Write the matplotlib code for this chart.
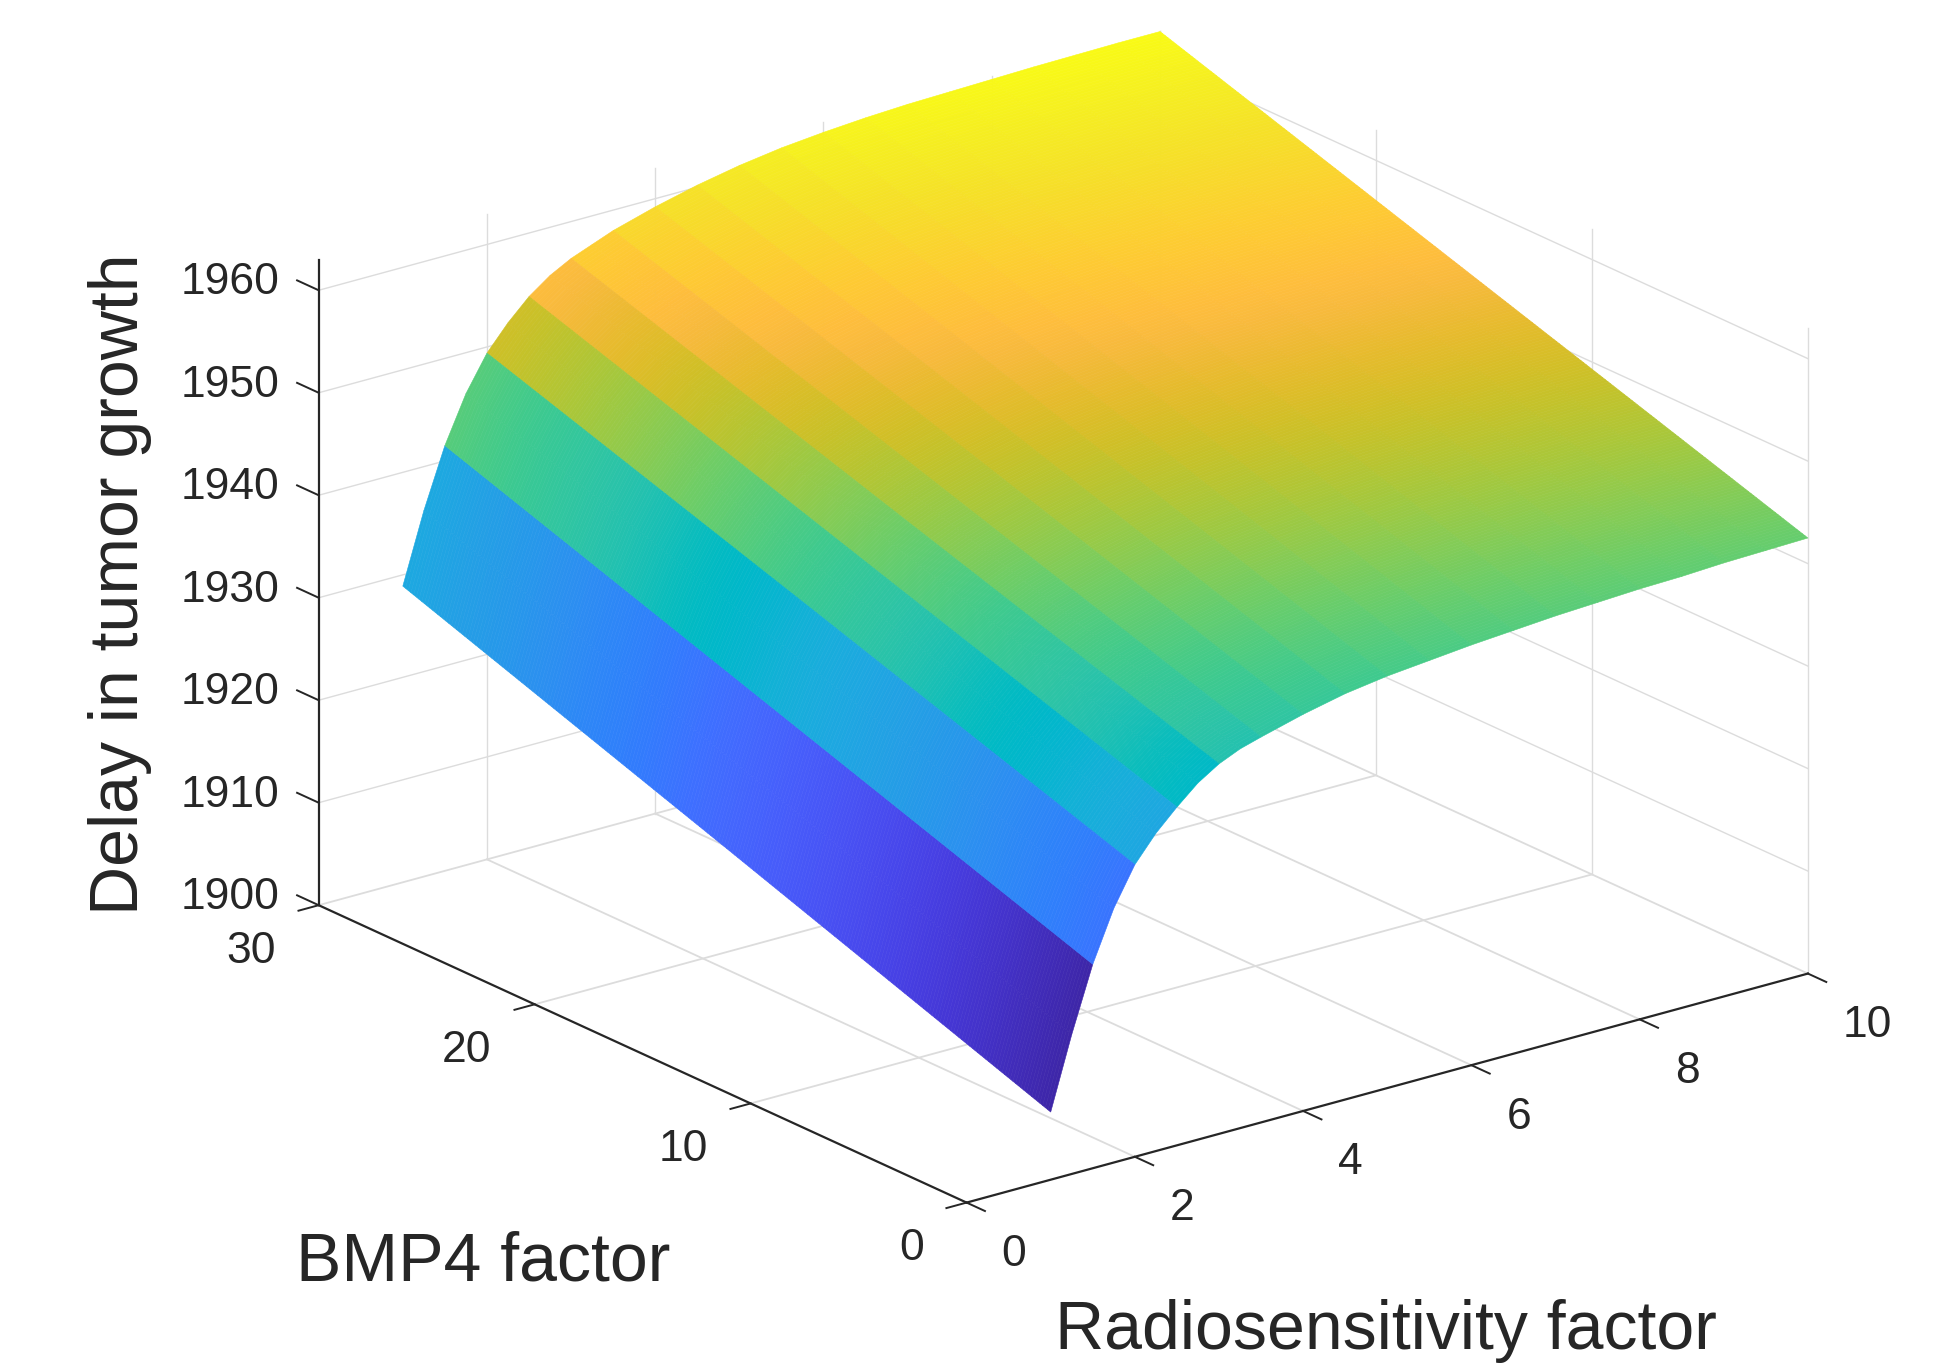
import numpy as np
import matplotlib
matplotlib.use("Agg")
import matplotlib.pyplot as plt
from matplotlib.colors import LinearSegmentedColormap, Normalize
from mpl_toolkits.mplot3d import proj3d

plt.rcParams['font.family'] = ['Liberation Sans', 'DejaVu Sans']

# values
radio = [1, 1.25, 1.5, 1.75, 2, 2.25, 2.5, 2.75, 3, 3.25, 3.5, 4, 4.5, 5, 5.5, 6, 6.5, 7, 7.5, 8, 8.5, 9, 9.5, 10]
bmp4 = [0, 15, 30]
delay_bmp0 = [1906.6, 1913.6, 1919.9, 1924.8, 1928.5, 1931.0, 1933.0, 1934.8, 1936.1, 1937.0, 1937.6,
              1938.7, 1939.6, 1940.2, 1940.6, 1941.0, 1941.3, 1941.6, 1941.8, 1942.0, 1942.1, 1942.3, 1942.4, 1942.5]
delay_bmp15 = [1917.8, 1924.6, 1930.7, 1935.4, 1939.0, 1941.4, 1943.4, 1945.0, 1946.2, 1947.1, 1947.8,
               1949.0, 1949.9, 1950.6, 1951.1, 1951.5, 1951.8, 1952.1, 1952.2, 1952.4, 1952.5, 1952.6, 1952.7, 1952.7]
delay_bmp30 = [1928.9, 1935.7, 1941.5, 1946.0, 1949.4, 1951.8, 1953.8, 1955.3, 1956.4, 1957.2, 1958.0,
               1959.2, 1960.2, 1961.0, 1961.6, 1962.0, 1962.3, 1962.5, 1962.6, 1962.7, 1962.8, 1962.85, 1962.9, 1962.9]

x_ticks = [0, 2, 4, 6, 8, 10]
y_ticks = [0, 10, 20, 30]
z_ticks = [1900, 1910, 1920, 1930, 1940, 1950, 1960]

parula = LinearSegmentedColormap.from_list('parula', [
    (0.2422, 0.1504, 0.6603), (0.2504, 0.1650, 0.7076), (0.2578, 0.1818, 0.7511), (0.2647, 0.1978, 0.7952),
    (0.2706, 0.2147, 0.8364), (0.2751, 0.2342, 0.8710), (0.2783, 0.2559, 0.8991), (0.2803, 0.2782, 0.9221),
    (0.2813, 0.3006, 0.9414), (0.2810, 0.3228, 0.9579), (0.2795, 0.3447, 0.9717), (0.2760, 0.3667, 0.9829),
    (0.2699, 0.3892, 0.9906), (0.2602, 0.4123, 0.9952), (0.2440, 0.4358, 0.9988), (0.2206, 0.4603, 0.9973),
    (0.1963, 0.4847, 0.9892), (0.1834, 0.5074, 0.9798), (0.1786, 0.5289, 0.9682), (0.1764, 0.5499, 0.9520),
    (0.1687, 0.5703, 0.9359), (0.1540, 0.5902, 0.9218), (0.1460, 0.6091, 0.9079), (0.1380, 0.6276, 0.8973),
    (0.1248, 0.6459, 0.8883), (0.1113, 0.6635, 0.8763), (0.0952, 0.6798, 0.8598), (0.0689, 0.6948, 0.8394),
    (0.0297, 0.7082, 0.8163), (0.0036, 0.7203, 0.7917), (0.0067, 0.7312, 0.7660), (0.0433, 0.7411, 0.7394),
    (0.0964, 0.7500, 0.7120), (0.1408, 0.7584, 0.6842), (0.1717, 0.7670, 0.6554), (0.1938, 0.7758, 0.6251),
    (0.2161, 0.7843, 0.5923), (0.2470, 0.7918, 0.5567), (0.2906, 0.7973, 0.5188), (0.3406, 0.8008, 0.4789),
    (0.3909, 0.8029, 0.4354), (0.4456, 0.8024, 0.3909), (0.5044, 0.7993, 0.3480), (0.5616, 0.7942, 0.3045),
    (0.6174, 0.7876, 0.2612), (0.6720, 0.7793, 0.2227), (0.7242, 0.7698, 0.1910), (0.7738, 0.7598, 0.1646),
    (0.8203, 0.7498, 0.1535), (0.8634, 0.7406, 0.1596), (0.9035, 0.7330, 0.1774), (0.9393, 0.7288, 0.2100),
    (0.9728, 0.7298, 0.2394), (0.9956, 0.7434, 0.2371), (0.9970, 0.7659, 0.2199), (0.9952, 0.7893, 0.2028),
    (0.9892, 0.8136, 0.1885), (0.9786, 0.8386, 0.1766), (0.9676, 0.8639, 0.1643), (0.9610, 0.8890, 0.1537),
    (0.9597, 0.9135, 0.1423), (0.9628, 0.9373, 0.1265), (0.9691, 0.9606, 0.1064), (0.9769, 0.9839, 0.0805),
], N=1024)

W, H = 1944, 1363
DARK = '#262626'
GRID = '#dcdcdc'
ZTOP = 1963

fig = plt.figure(figsize=(W / 100, H / 100), dpi=100)
ax = fig.add_axes([0, 0, 1, 1], projection='3d', proj_type='ortho', computed_zorder=False)
ax.view_init(elev=20.7, azim=-127.6)
ax.set_xlim(0, 10)
ax.set_ylim(0, 30)
ax.set_zlim(1900, ZTOP)
ax.set_box_aspect((1, 1, 0.65))
ax.set_axis_off()

# grid on the floor and the two back walls
for t in x_ticks[1:]:
    ax.plot([t, t], [0, 30], [1900, 1900], color=GRID, lw=1.3, zorder=1)
    ax.plot([t, t], [30, 30], [1900, ZTOP], color=GRID, lw=1.0, zorder=1)
for t in y_ticks[1:]:
    ax.plot([0, 10], [t, t], [1900, 1900], color=GRID, lw=1.3, zorder=1)
for t in y_ticks:
    ax.plot([10, 10], [t, t], [1900, ZTOP], color=GRID, lw=1.0, zorder=1)
for t in z_ticks[1:]:
    ax.plot([0, 10], [30, 30], [t, t], color=GRID, lw=1.0, zorder=1)
    ax.plot([10, 10], [0, 30], [t, t], color=GRID, lw=1.0, zorder=1)

# surface: colour is flat across each half step of radiosensitivity, smooth along BMP4
delay = np.array([delay_bmp0, delay_bmp15, delay_bmp30])
y_fine = np.linspace(0, 30, 241)
z_fine = np.array([np.interp(y_fine, bmp4, col) for col in delay.T]).T
X, Y = np.meshgrid(radio, y_fine)
norm = Normalize(delay.min(), delay.max())
band = [radio.index(np.floor(r * 2) / 2) for r in radio]
ax.plot_surface(X, Y, z_fine, facecolors=parula(norm(z_fine[:, band])), rstride=1, cstride=1,
                shade=False, linewidth=0.4, antialiased=True, zorder=2)

# axis lines and ticks
ax.plot([0, 10], [0, 0], [1900, 1900], color=DARK, lw=1.6, zorder=3)
ax.plot([0, 0], [0, 30], [1900, 1900], color=DARK, lw=1.6, zorder=3)
ax.plot([0, 0], [30, 30], [1900, ZTOP], color=DARK, lw=1.6, zorder=3)
for t in x_ticks:
    ax.plot([t, t], [0, -0.85], [1900, 1900], color=DARK, lw=1.4, zorder=3)
for t in y_ticks:
    ax.plot([0, -0.24], [t, t], [1900, 1900], color=DARK, lw=1.4, zorder=3)
for t in z_ticks:
    ax.plot([0, 0], [30, 31], [t, t], color=DARK, lw=1.4, zorder=3)

fig.text(390 * 1.24 / W, 1 - 1018 * 1.24 / H, 'BMP4 factor', ha='center', va='center', fontsize=49, color=DARK)
fig.text(1118 * 1.24 / W, 1 - 1073 * 1.24 / H, 'Radiosensitivity factor', ha='center', va='center',
         fontsize=49, color=DARK)
fig.text(97 * 1.24 / W, 1 - 471 * 1.24 / H, 'Delay in tumor growth', ha='center', va='center',
         rotation=90, fontsize=49, color=DARK)


def to_px(x, y, z):
    xp, yp, _ = proj3d.proj_transform(x, y, z, ax.get_proj())
    return ax.transData.transform((xp, yp))


# fit the square axes so the box corners land where the reference has them
size = 1300.0
ax.set_position([0, 0, size / W, size / H])
fig.canvas.draw()
span = to_px(10, 0, 1900)[0] - to_px(0, 30, 1900)[0]
size = size * (1458 - 257) * 1.24 / span
ax.set_position([0, 0, size / W, size / H])
fig.canvas.draw()
px = to_px(0, 30, 1900)
left = 257 * 1.24 - px[0]
bottom = (H - 730 * 1.24) - px[1]
ax.set_position([left / W, bottom / H, size / W, size / H])
fig.canvas.draw()


def tick_label(pos, dx, dy, text, ha):
    px = to_px(*pos)
    fig.text((px[0] + dx) / W, (px[1] + dy) / H, text, ha=ha, va='center', fontsize=32, color=DARK)


for t in x_ticks:
    tick_label((t, 0, 1900), 35, -52, str(t), 'left')
for t in y_ticks:
    tick_label((0, t, 1900), -43, -46, str(t), 'right')
for t in z_ticks:
    tick_label((0, 30, t), -39, 7.5, str(t), 'right')

fig.savefig('out.png', dpi=100)
